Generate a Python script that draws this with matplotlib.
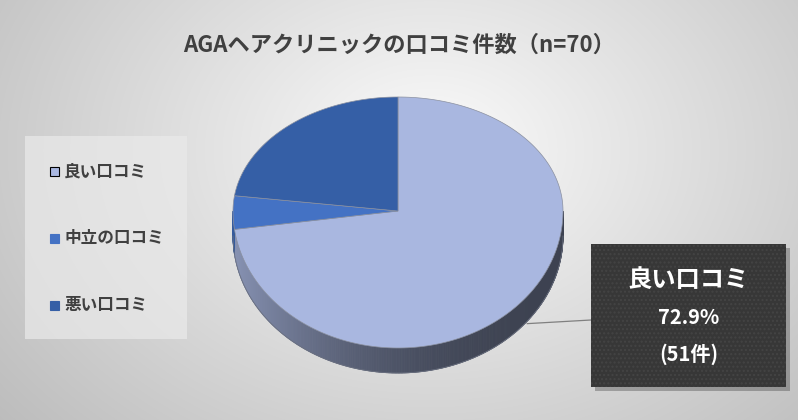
import numpy as np
import matplotlib
matplotlib.use("Agg")
import matplotlib.pyplot as plt
from matplotlib.patches import Polygon, Rectangle
from matplotlib.colors import to_rgb

plt.rcParams['font.family'] = ['Noto Sans CJK JP', 'DejaVu Sans']

# データ
labels = ['良い口コミ', '中立の口コミ', '悪い口コミ']
counts = [51, 3, 16]
colors = ['#a9b7e0', '#4472c4', '#355fa6']
title = 'AGAヘアクリニックの口コミ件数（n=70）'

total = sum(counts)
fracs = np.array(counts) / total

W, H = 798, 420
fig = plt.figure(figsize=(W / 100, H / 100), dpi=100)
ax = fig.add_axes([0, 0, 1, 1])
ax.set_xlim(0, W)
ax.set_ylim(H, 0)
ax.axis('off')

# 背景のグラデーション
yy, xx = np.mgrid[0:H, 0:W]
d = np.sqrt(((xx - 430) / 1.0) ** 2 + ((yy - 150) / 0.75) ** 2)
t = np.clip(d / 560, 0, 1)
c0, c1 = np.array([0.985, 0.985, 0.985]), np.array([0.74, 0.74, 0.74])
bg = c0[None, None, :] * (1 - t[..., None]) + c1[None, None, :] * t[..., None]
ax.imshow(bg, extent=(0, W, H, 0), zorder=0, aspect='auto')

# 3D風の円グラフ
cx, cy = 398, 211
rx, ry_top, ry_bot = 165, 114, 137
depth = 25


def rim(th):
    # th: 12時から時計回り（度）
    r = np.radians(th)
    ry = np.where(np.cos(r) > 0, ry_top, ry_bot)
    return cx + rx * np.sin(r), cy - ry * np.cos(r)


bounds = np.concatenate([[0], np.cumsum(fracs) * 360])

# 側面
for i in range(len(counts)):
    a0, a1 = max(bounds[i], 90), min(bounds[i + 1], 270)
    if a1 <= a0:
        continue
    ths = np.linspace(a0, a1, int((a1 - a0) * 2) + 2)
    base = np.array(to_rgb(colors[i]))
    for k in range(len(ths) - 1):
        x0, y0 = rim(ths[k])
        x1, y1 = rim(ths[k + 1])
        tt = ((x0 + x1) / 2 - (cx - rx)) / (2 * rx)
        f = 0.36 + 0.44 * (1 - tt) ** 2.2
        poly = [(x0, y0), (x1, y1), (x1, y1 + depth), (x0, y0 + depth)]
        ax.add_patch(Polygon(poly, closed=True, facecolor=base * f,
                             edgecolor=base * f, lw=0.6, zorder=2))
ths = np.linspace(90, 270, 300)
bx, by = rim(ths)
ax.plot(bx, by + depth, color='#6a7080', lw=0.6, zorder=3)

# 上面
for i in range(len(counts)):
    ths = np.linspace(bounds[i], bounds[i + 1], 200)
    px, py = rim(ths)
    pts = [(cx, cy)] + list(zip(px, py))
    ax.add_patch(Polygon(pts, closed=True, facecolor=colors[i],
                         edgecolor='#8a90a0', lw=0.5, zorder=4))

# 凡例
ax.add_patch(Rectangle((25, 136), 162, 203, facecolor='#eaeaea', alpha=0.7,
                       edgecolor='none', zorder=5))
leg_y = [171, 238, 305]
for lab, col, y in zip(labels, colors, leg_y):
    ec = 'black' if col == colors[0] else col
    ax.add_patch(Rectangle((50, y - 4.5), 9, 9, facecolor=col, edgecolor=ec,
                           lw=0.8, zorder=6))
    ax.text(64, y, lab, fontsize=12, fontweight='bold', color='#404040',
            va='center', ha='left', zorder=6)

# タイトル
ax.text(399, 45, title, fontsize=16, fontweight='bold', color='#404040',
        ha='center', va='center', zorder=6)

# データラベル（吹き出し）
mid = (bounds[0] + bounds[1]) / 2
lx, ly = rim(mid)
bx0, by0, bw, bh = 591, 244, 195, 143
ax.plot([lx + 5, bx0], [ly + depth / 2 + 10, 320], color='#808080', lw=0.9, zorder=5)
ax.add_patch(Rectangle((bx0 + 4, by0 + 4), bw, bh, facecolor='black', alpha=0.25,
                       edgecolor='none', zorder=6))
plt.rcParams['hatch.linewidth'] = 1.0
ax.add_patch(Rectangle((bx0, by0), bw, bh, facecolor='#373737', edgecolor='#444444',
                       hatch='....', lw=0, zorder=7))
tx = bx0 + bw / 2
ax.text(tx, 280, labels[0], fontsize=17.5, fontweight='bold', color='white',
        ha='center', va='center', zorder=8)
ax.text(tx, 318, f'{fracs[0] * 100:.1f}%', fontsize=14.5, fontweight='bold',
        color='white', ha='center', va='center', zorder=8)
ax.text(tx, 354, f'({counts[0]}件)', fontsize=14.5, fontweight='bold',
        color='white', ha='center', va='center', zorder=8)

fig.savefig('out.png', dpi=100)
